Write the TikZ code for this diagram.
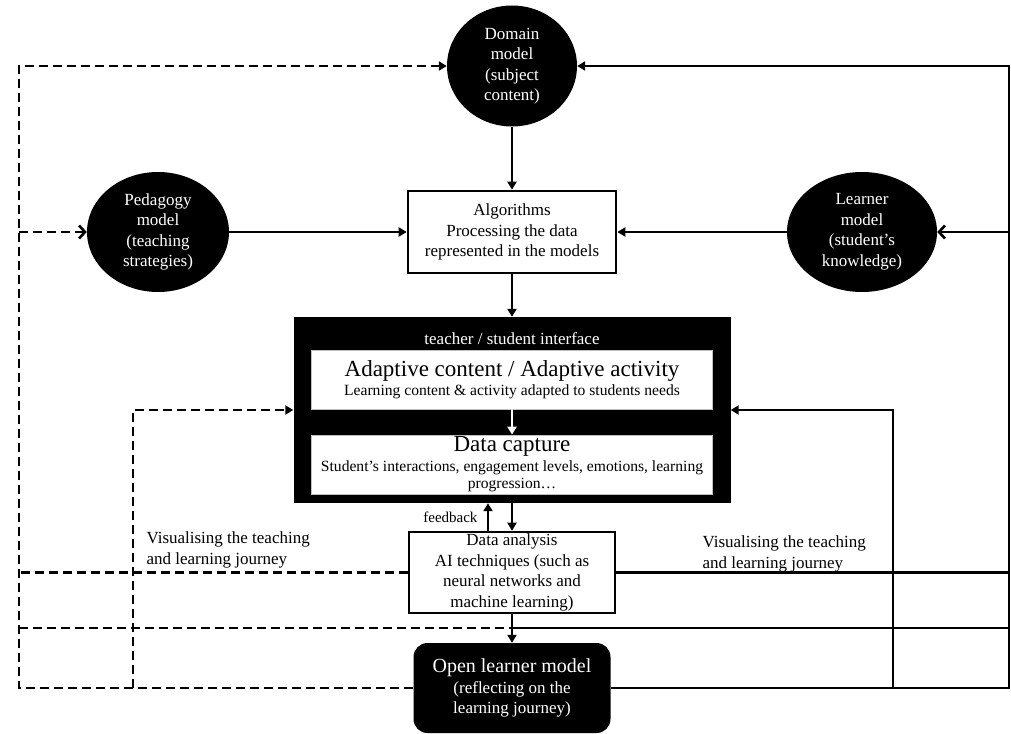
\documentclass[tikz,border=0pt]{standalone}
\usepackage{fontspec}
\setmainfont{Liberation Serif}
\usetikzlibrary{arrows.meta,shapes.geometric}
\newcommand\fnorm{\fontsize{17}{20.5}\selectfont}
\newcommand\fsmall{\fontsize{15}{18}\selectfont}
\newcommand\fmid{\fontsize{15.6}{18}\selectfont}
\newcommand\fbig{\fontsize{23}{25}\selectfont}
\newcommand\folm{\fontsize{20}{23}\selectfont}
\begin{document}
\begin{tikzpicture}[x=1pt,y=-1pt,font=\fnorm,
  tri/.tip={Triangle[length=8pt,width=9pt]},
  chev/.tip={Straight Barb[length=6pt,width=13pt]},
  wire/.style={line width=2.6pt},
  dwire/.style={line width=2.6pt, dash pattern=on 9pt off 5pt},
  conn/.style={wire,-tri},
  blob/.style={ellipse, fill=black, text=white, inner sep=0pt, align=center},
  wbox/.style={draw, line width=2.6pt, fill=white, align=center, inner sep=1pt},
  inbox/.style={draw=gray!50, line width=0.8pt, fill=white, align=center, inner sep=0pt}
]
\useasboundingbox (0,0) rectangle (1011,733);

% models
\node[blob, minimum width=130pt, minimum height=121pt] (domain) at (512,66) {Domain\\model\\(subject\\content)};
\node[blob, minimum width=142pt, minimum height=120pt] (ped) at (158,232) {Pedagogy\\model\\(teaching\\strategies)};
\node[blob, minimum width=150pt, minimum height=120pt] (learner) at (862,232) {Learner\\model\\(student’s\\knowledge)};
\node[wbox, minimum width=208pt, minimum height=82pt] (algo) at (512,232) {Algorithms\\Processing the data\\represented in the models};

% interface
\node[fill=black, minimum width=437pt, minimum height=186pt, inner sep=0pt] (iface) at (512,410) {};
\node[text=white, font=\fnorm] (ititle) at (512,339) {teacher / student interface};
\node[inbox, minimum width=401pt, minimum height=59pt] (adapt) at (512,379.5)
  {{\fbig Adaptive content / Adaptive activity}\\[-1pt]{\fmid Learning content \& activity adapted to students needs}};
\node[inbox, minimum width=401pt, minimum height=59pt] (capture) at (512,464.5)
  {{\fbig Data capture}\\[-1pt]{\fmid Student’s interactions, engagement levels, emotions, learning}\\[-3pt]{\fmid progression…}};

% analysis and open learner model
\node[wbox, minimum width=206pt, minimum height=81pt] (da) at (512,572.5) {Data analysis\\AI techniques (such as\\neural networks and\\machine learning)};
\node[fill=black, rounded corners=14pt, text=white, align=center, minimum width=197pt, minimum height=90pt, inner sep=0pt] (olm) at (512,688)
  {{\folm Open learner model}\\(reflecting on the\\learning journey)};

% labels
\node[font=\fsmall, anchor=east] (fb) at (481,517) {feedback};
\node[align=left, anchor=west] (visL) at (143,550) {Visualising the teaching\\and learning journey};
\node[align=left, anchor=west] (visR) at (699,554) {Visualising the teaching\\and learning journey};

% coordinates
\coordinate (lbot) at (19,688);
\coordinate (ltop) at (19,66);
\coordinate (lped) at (19,232);
\coordinate (lda) at (19,572.5);
\coordinate (lmid) at (19,628);
\coordinate (cmid) at (512,628);
\coordinate (vbot) at (133,688);
\coordinate (vtop) at (133,410);
\coordinate (rbot) at (1009,688);
\coordinate (rtop) at (1009,66);
\coordinate (rlrn) at (1009,232);
\coordinate (rda) at (1009,572.5);
\coordinate (rmid) at (1009,628);
\coordinate (wbot) at (893,688);
\coordinate (wtop) at (893,410);
\coordinate (fbx) at (488,0);

% left dashed connectors
\draw[dwire,-tri] (olm.west) -- (lbot) -- (ltop) -- (domain.west);
\draw[dwire,-chev] (lped) -- (ped.west);
\draw[dwire] (da.west) -- (lda);
\draw[dwire] (lmid) -- (cmid);
\draw[dwire,-tri] (vbot) -- (vtop) -- (iface.west);

% right solid connectors
\draw[wire,-tri] (olm.east) -- (rbot) -- (rtop) -- (domain.east);
\draw[wire,-chev] (rlrn) -- (learner.east);
\draw[wire] (da.east) -- (rda);
\draw[wire] (cmid) -- (rmid);
\draw[wire,-tri] (wbot) -- (wtop) -- (iface.east);

% central flow
\draw[conn] (domain) -- (algo);
\draw[conn] (ped) -- (algo);
\draw[conn] (learner) -- (algo);
\draw[conn] (algo) -- (iface);
\draw[conn, white, line width=2pt] (adapt) -- (capture);
\draw[conn] (iface.south) -- (da.north);
\draw[conn] (da.north -| fbx) -- (iface.south -| fbx);
\draw[conn] (da) -- (olm);
\end{tikzpicture}
\end{document}
